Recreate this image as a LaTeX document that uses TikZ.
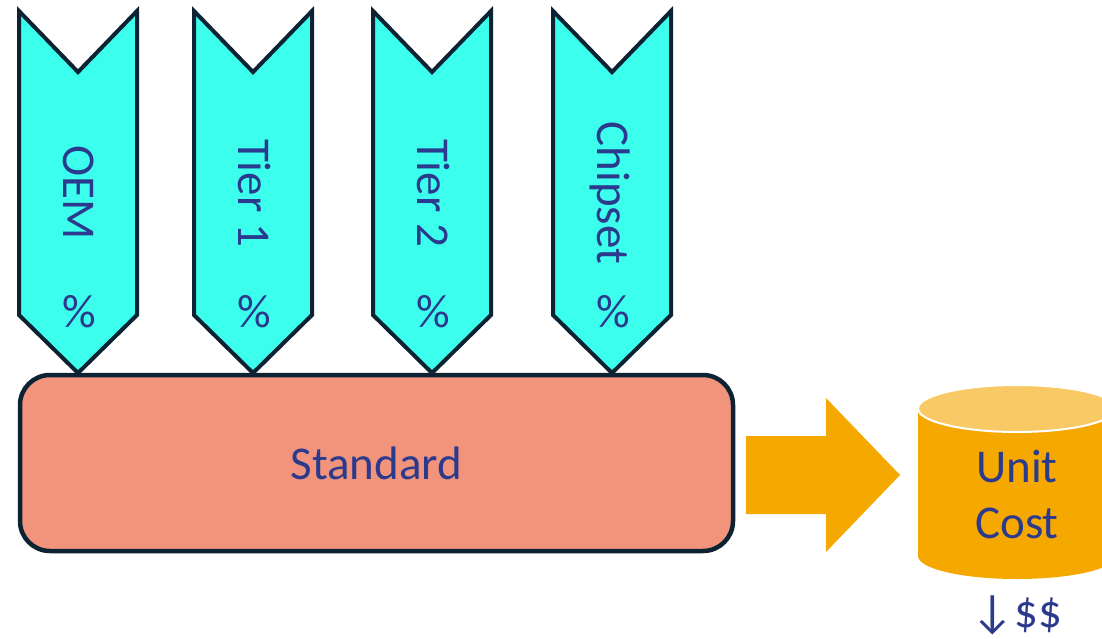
\documentclass[tikz,border=0pt]{standalone}
\usepackage{fontspec}
\setmainfont{Carlito}
\definecolor{chevfill}{HTML}{3BFEEC}
\definecolor{edgeink}{HTML}{0D2333}
\definecolor{ink}{HTML}{2B3A8C}
\definecolor{salmon}{HTML}{F2947C}
\definecolor{amber}{HTML}{F5A800}
\definecolor{amberlight}{HTML}{F9C966}

\begin{document}
\begin{tikzpicture}[x=1pt,y=-1pt,
  font=\fontsize{47}{56}\selectfont,
  chevron/.style={fill=chevfill,draw=edgeink,line width=4pt,line join=miter},
  lbl/.style={text=ink,inner sep=0pt},
  stdbox/.style={fill=salmon,draw=edgeink,line width=4.5pt,rounded corners=30pt,
                 minimum width=713pt,minimum height=176pt,text=ink},
  flow/.style={fill=amber},
]
\useasboundingbox (0,0) rectangle (1102,638);

% four down-pointing chevrons feeding the standard
\foreach \cx/\txt/\nm in {78/OEM/oem,253/Tier 1/tierone,432/Tier 2/tiertwo,612/Chipset/chipset}{
  \draw[chevron] (\cx-59,11) -- (\cx,72) -- (\cx+59,11) -- (\cx+59,315)
                 -- (\cx,373) -- (\cx-59,315) -- cycle;
  \node[lbl,rotate=-90,anchor=base] (\nm) at (\cx-15,193) {\txt};
  \node[lbl,anchor=base] (\nm-pct) at (\cx+1,327) {\%};
}

% the standard
\node[stdbox] (std) at (376.5,463) {Standard};

% block arrow towards the cost
\fill[flow] (746,436) -- (826,436) -- (826,398) -- (900,475) -- (826,552)
            -- (826,514) -- (746,514) -- cycle;

% unit cost cylinder
\fill[amber] (918,408) -- (918,556) arc[start angle=180,end angle=0,x radius=99,y radius=23]
             -- (1116,408) -- cycle;
\filldraw[fill=amberlight,draw=white,line width=2pt] (1017,408.5) ellipse [x radius=99,y radius=23.5];
\node[lbl,align=center] (cost) at (1017,494) {Unit\\Cost};
\node[lbl,anchor=base] (saving) at (1017,627) {↓\$\$};
\end{tikzpicture}
\end{document}
